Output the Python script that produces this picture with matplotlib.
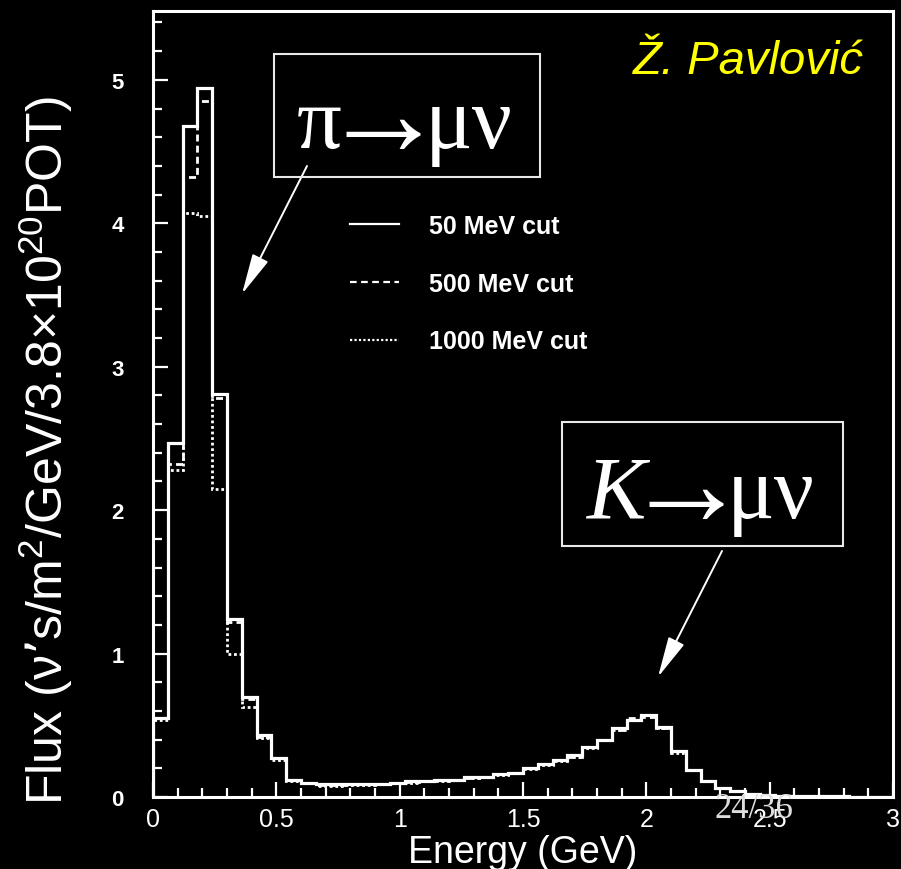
import matplotlib
matplotlib.use('Agg')
import matplotlib.pyplot as plt
import matplotlib.patches as mpatches
from matplotlib.lines import Line2D
from matplotlib.ticker import MultipleLocator, FuncFormatter
import numpy as np

plt.rcParams['font.family'] = ['Liberation Sans', 'DejaVu Sans']
plt.rcParams['mathtext.default'] = 'regular'

# 50 bins of 0.06 GeV, 0 - 3 GeV
edges = np.linspace(0.0, 3.0, 51)

flux_50 = [0.55, 2.47, 4.68, 4.94, 2.81, 1.24, 0.70, 0.43, 0.27, 0.12,
           0.10, 0.09, 0.09, 0.09, 0.09, 0.09, 0.10, 0.11, 0.11, 0.12,
           0.12, 0.14, 0.14, 0.16, 0.17, 0.20, 0.23, 0.26, 0.29, 0.35,
           0.40, 0.48, 0.54, 0.57, 0.49, 0.32, 0.19, 0.11, 0.06, 0.04,
           0.02, 0.015, 0.01, 0.008, 0.006, 0.005, 0.004, 0.003, 0.003, 0.002]
flux_500 = [0.55, 2.32, 4.32, 4.85, 2.78, 1.22, 0.68, 0.42, 0.27, 0.12,
            0.10, 0.085, 0.085, 0.09, 0.09, 0.09, 0.10, 0.105, 0.11, 0.12,
            0.12, 0.135, 0.14, 0.16, 0.17, 0.20, 0.23, 0.26, 0.28, 0.35,
            0.40, 0.47, 0.55, 0.56, 0.48, 0.32, 0.19, 0.11, 0.06, 0.04,
            0.02, 0.015, 0.01, 0.008, 0.006, 0.005, 0.004, 0.003, 0.003, 0.002]
flux_1000 = [0.54, 2.28, 4.07, 4.05, 2.15, 1.00, 0.63, 0.41, 0.26, 0.11,
             0.095, 0.08, 0.08, 0.085, 0.085, 0.09, 0.095, 0.10, 0.11, 0.115,
             0.12, 0.13, 0.14, 0.155, 0.17, 0.195, 0.225, 0.25, 0.28, 0.34,
             0.40, 0.47, 0.54, 0.57, 0.48, 0.31, 0.19, 0.11, 0.06, 0.04,
             0.02, 0.015, 0.01, 0.008, 0.006, 0.005, 0.004, 0.003, 0.003, 0.002]
labels = ['50 MeV cut', '500 MeV cut', '1000 MeV cut']

W, H = 901, 870

def fpx(x, y):
    # image pixel (from top-left) -> figure fraction
    return x / W, 1 - y / H

fig = plt.figure(figsize=(W / 100, H / 100), dpi=100, facecolor='black')
ax = fig.add_axes([153 / W, 1 - 798 / H, 740 / W, 786 / H])
ax.set_facecolor('black')

ax.stairs(flux_1000, edges, color='white', lw=2.0, ls=(0, (1, 1)), zorder=2)
ax.stairs(flux_500, edges, color='white', lw=2.0, ls=(0, (2.5, 1.5)), zorder=3)
ax.stairs(flux_50, edges, color='white', lw=2.3, zorder=4)

ax.set_xlim(0, 3)
ax.set_ylim(0, 5.48)
for s in ax.spines.values():
    s.set_color('white')
    s.set_linewidth(2.2)

fmt = FuncFormatter(lambda v, _: f'{v:g}')
ax.xaxis.set_major_locator(MultipleLocator(0.5))
ax.xaxis.set_minor_locator(MultipleLocator(0.1))
ax.yaxis.set_major_locator(MultipleLocator(1))
ax.yaxis.set_minor_locator(MultipleLocator(0.2))
ax.xaxis.set_major_formatter(fmt)
ax.yaxis.set_major_formatter(fmt)
ax.tick_params(which='both', direction='in', color='white', labelcolor='white',
               top=False, right=False, width=1.6)
ax.tick_params(which='major', length=11)
ax.tick_params(which='minor', length=6.5)
ax.tick_params(axis='x', labelsize=18, pad=7)
ax.tick_params(axis='y', labelsize=16, pad=21)
for t in ax.get_yticklabels():
    t.set_fontweight('bold')

ax.set_xlabel('Energy (GeV)', color='white', fontsize=27)
ax.xaxis.set_label_coords(0.5, (798 - 835) / 786)

fig.text(*fpx(46, 451), "Flux (\u03bd\u2019s/m$^2$/GeV/3.8\u00d710$^{20}$POT)",
         rotation=90, ha='center', va='center', color='white', fontsize=36)

handles = [Line2D([], [], color='white', lw=1.6),
           Line2D([], [], color='white', lw=1.6, ls=(0, (3, 2))),
           Line2D([], [], color='white', lw=1.6, ls=(0, (1, 1)))]
leg = ax.legend(handles, labels, loc='upper left',
                bbox_to_anchor=((350 - 153) / 740, (798 - 215) / 786),
                frameon=False, handlelength=1.95, handletextpad=1.2,
                labelspacing=1.35, borderpad=0, borderaxespad=0,
                prop={'size': 18, 'weight': 'bold'})
for t in leg.get_texts():
    t.set_color('white')

# annotation boxes
for (x0, y0, x1, y1) in [(274, 55, 540, 178), (562, 423, 843, 547)]:
    fig.patches.append(mpatches.Rectangle(fpx(x0, y1), (x1 - x0) / W, (y1 - y0) / H,
                                          transform=fig.transFigure, fill=False,
                                          ec='#e8e8e8', lw=1.5))

serif = ['Liberation Serif', 'DejaVu Serif']
big = 64
# pi -> mu nu
fig.text(*fpx(342, 148), '\u03c0', ha='right', va='baseline', color='white',
         fontsize=big, family=serif)
fig.text(*fpx(362, 154), r'$\rightarrow$', ha='center', va='baseline', color='white',
         fontsize=90, math_fontfamily='stix')
fig.text(*fpx(425, 148), '\u03bc\u03bd', ha='left', va='baseline', color='white',
         fontsize=big, family=serif)
# K -> mu nu
fig.text(*fpx(586, 518), 'K', ha='left', va='baseline', color='white',
         fontsize=big, family=serif, style='italic')
fig.text(*fpx(665, 524), r'$\rightarrow$', ha='center', va='baseline', color='white',
         fontsize=90, math_fontfamily='stix')
fig.text(*fpx(727, 518), '\u03bc\u03bd', ha='left', va='baseline', color='white',
         fontsize=big, family=serif)

arrow = dict(arrowstyle='-|>,head_length=1.4,head_width=0.3', color='white',
             lw=1.4, mutation_scale=18, shrinkA=0, shrinkB=0)
for tail, tip in [((307, 167), (242, 295)), ((722, 552), (658, 678))]:
    ax.annotate('', xy=(tip[0], H - tip[1]), xycoords='figure pixels',
                xytext=(tail[0], H - tail[1]), textcoords='figure pixels',
                arrowprops=arrow)

fig.text(*fpx(864, 62), '\u017d. Pavlovi\u0107', ha='right', va='center',
         color='#ffff00', fontsize=34, style='italic')

fig.text(*fpx(714, 818), '24/36', ha='left', va='baseline', color='#dddddd',
         fontsize=25, family=serif)

fig.savefig('out.png', dpi=100, facecolor='black')
